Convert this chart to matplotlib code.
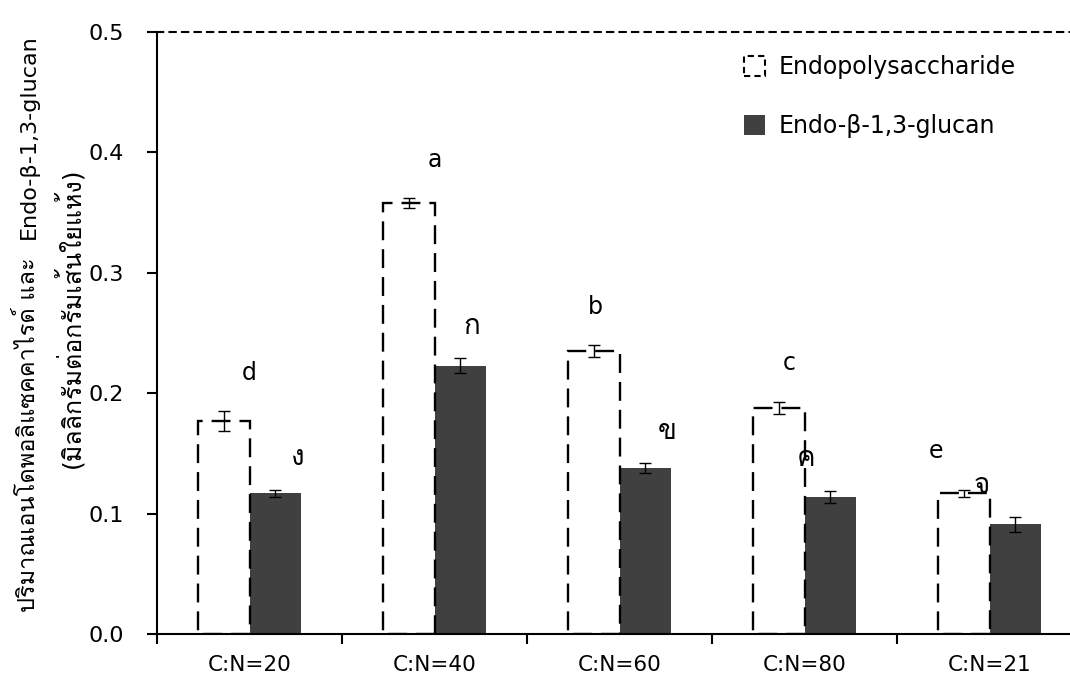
import numpy as np
import matplotlib
matplotlib.use("Agg")
from matplotlib import pyplot as plt
from matplotlib import font_manager
from matplotlib.ft2font import FT2Font
from matplotlib.patches import Patch

# look for an installed font that has Thai glyphs
thai_font = None
for f in font_manager.fontManager.ttflist:
    try:
        if ord("ก") in FT2Font(f.fname).get_charmap():
            thai_font = f.name
            break
    except Exception:
        pass

fams = ["DejaVu Sans"]
if thai_font:
    fams.append(thai_font)
plt.rcParams["font.family"] = fams

categories = ["C:N=20", "C:N=40", "C:N=60", "C:N=80", "C:N=21"]
endo_poly = [0.177, 0.358, 0.235, 0.188, 0.117]
endo_poly_err = [0.008, 0.004, 0.005, 0.005, 0.003]
endo_glucan = [0.117, 0.223, 0.138, 0.114, 0.091]
endo_glucan_err = [0.003, 0.006, 0.004, 0.005, 0.006]
poly_letters = ["d", "a", "b", "c", "e"]
glucan_letters = ["ง", "ก", "ข", "ค", "จ"]
# small horizontal nudges of the letters (in category units)
poly_nudge = [0.14, 0.14, 0.01, 0.06, -0.15]
glucan_nudge = [0.12, 0.06, 0.12, -0.13, -0.18]

dark = "#404040"
w = 0.28
x = np.arange(len(categories))

fig = plt.figure(figsize=(10.7, 6.88), dpi=100)
ax = fig.add_axes([157/1070, 1-634/688, 925/1070, 602/688])

ax.bar(x, endo_glucan, width=w, align="edge", color=dark, zorder=2)
ax.bar(x, endo_poly, width=-w, align="edge", facecolor="white",
       edgecolor="black", linewidth=1.7, linestyle=(0, (8, 3.8)), zorder=2.5)
ax.errorbar(x - w/2, endo_poly, yerr=endo_poly_err, fmt="none",
            ecolor="black", elinewidth=1, capsize=4.5, capthick=1, zorder=3)
ax.errorbar(x + w/2, endo_glucan, yerr=endo_glucan_err, fmt="none",
            ecolor="black", elinewidth=1, capsize=4.5, capthick=1, zorder=3)

for i in range(len(x)):
    ax.text(x[i] - w/2 + poly_nudge[i], endo_poly[i] + endo_poly_err[i] + 0.032,
            poly_letters[i], ha="center", va="center", fontsize=17)
    ax.text(x[i] + w/2 + glucan_nudge[i], endo_glucan[i] + endo_glucan_err[i] + 0.027,
            glucan_letters[i], ha="center", va="center", fontsize=20)

ax.set_xlim(-0.5, 4.5)
ax.set_ylim(0, 0.5)
ax.set_yticks([0.0, 0.1, 0.2, 0.3, 0.4, 0.5])
ax.set_yticklabels(["0.0", "0.1", "0.2", "0.3", "0.4", "0.5"])
ax.set_xticks(x)
ax.set_xticklabels(categories)
ax.set_xticks(np.arange(-0.5, 5, 1), minor=True)
ax.tick_params(axis="x", which="major", length=0, pad=15, labelsize=15.5)
ax.tick_params(axis="x", which="minor", length=7, width=1.5, direction="out")
ax.tick_params(axis="y", length=7, width=1.5, direction="out", pad=17, labelsize=16)

ax.spines["right"].set_visible(False)
ax.spines["top"].set_linestyle((0, (3, 3)))
ax.spines["top"].set_linewidth(1.5)
ax.spines["left"].set_linewidth(1.5)
ax.spines["bottom"].set_linewidth(1.5)

# y label: Thai part and latin part of the first line, then the unit line
ylab_thai = "ปริมาณเอนโดพอลิแซคคาไรด์ และ"
ylab_latin = "Endo-β-1,3-glucan"
ylab_unit = "(มิลลิกรัมต่อกรัมเส้นใยแห้ง)"
fig.text(35/1070, 1-612/688, ylab_thai, rotation=90, rotation_mode="anchor",
         ha="left", va="baseline", fontsize=17)
fig.text(35/1070, 1-34/688, ylab_latin, rotation=90, rotation_mode="anchor",
         ha="right", va="baseline", fontsize=16)
fig.text(79/1070, 1-318/688, ylab_unit, rotation=90, rotation_mode="anchor",
         ha="center", va="baseline", fontsize=18)

handles = [Patch(facecolor="white", edgecolor="black", linestyle=(0, (3, 2)), linewidth=1.5),
           Patch(facecolor=dark)]
fig.legend(handles, ["Endopolysaccharide", "Endo-β-1,3-glucan"],
           loc="upper left", bbox_to_anchor=(0.6755, 0.951), frameon=False,
           fontsize=17, handlelength=0.9, handleheight=0.9, handletextpad=0.55,
           labelspacing=1.5)

fig.savefig("out.png", dpi=100)
